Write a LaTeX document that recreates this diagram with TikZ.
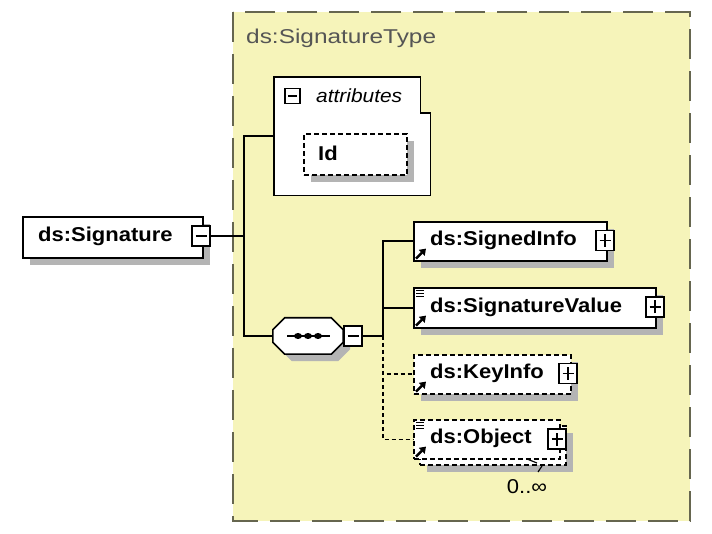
\documentclass[tikz,border=0pt]{standalone}
\usepackage{fontspec}
\setmainfont[FakeStretch=1.1]{Liberation Sans}
\newfontfamily\titlefont[FakeStretch=1.22]{Liberation Sans}
\usetikzlibrary{shadows,arrows.meta}
\definecolor{bgyellow}{HTML}{F6F4BA}
\definecolor{framecol}{HTML}{66664F}
\definecolor{shgray}{HTML}{B4B4B4}
\definecolor{titlegray}{HTML}{555555}
\begin{document}
\begin{tikzpicture}[x=1pt,y=-1pt,
  shad/.style={drop shadow={shadow xshift=7pt,shadow yshift=-7pt,fill=shgray,opacity=1}},
  elem/.style={draw=black,fill=white,line width=1.6pt,anchor=north west,inner sep=0pt,shad},
  optelem/.style={elem,dash pattern=on 5pt off 3pt},
  pmbox/.style={draw=black,fill=white,line width=1.3pt,minimum width=18pt,minimum height=20pt,inner sep=0pt},
  minusbox/.style={pmbox,path picture={\draw[line width=1.3pt]([xshift=-5.5pt]path picture bounding box.center)--([xshift=5.5pt]path picture bounding box.center);}},
  plusbox/.style={pmbox,path picture={\draw[line width=1.3pt]([xshift=-5.5pt]path picture bounding box.center)--([xshift=5.5pt]path picture bounding box.center);
     \draw[line width=1.3pt]([yshift=-6.5pt]path picture bounding box.center)--([yshift=6.5pt]path picture bounding box.center);}},
  lbl/.style={anchor=west,inner sep=0pt,font=\bfseries\fontsize{20}{24}\selectfont},
  conn/.style={draw=black,line width=1.6pt},
  optconn/.style={conn,dash pattern=on 4pt off 3pt},
  refarrow/.style={line width=2.6pt,-{Triangle[length=6pt,width=8pt]}},
]
\useasboundingbox (0,0) rectangle (712,534);
\fill[white] (0,0) rectangle (712,534);
% complex type frame
\draw[framecol,line width=2pt,dash pattern=on 30pt off 12pt,fill=bgyellow] (233,12) rectangle (690,521);
\node[anchor=west,inner sep=0pt,text=titlegray,font=\titlefont\fontsize{20}{24}\selectfont] (title) at (246,38) {ds:SignatureType};

% ds:Signature
\node[elem,minimum width=180pt,minimum height=41pt] (sig) at (22,216) {};
\node[lbl] (sigtxt) at (38,236) {ds:Signature};
\node[minusbox] (sigm) at (201,236) {};

% attributes
\node[anchor=north west,inner sep=0pt,minimum width=156pt,minimum height=118pt] (attr) at (274,77) {};
\draw[line width=1.6pt,fill=white] (attr.north west) -- ([xshift=-10pt]attr.north east) -- ++(0,36) -- ++(10,0) -- (attr.south east) -- (attr.south west) -- cycle;
\node[pmbox,minimum width=15pt,minimum height=15pt,path picture={\draw[line width=1.2pt]([xshift=-4.5pt]path picture bounding box.center)--([xshift=4.5pt]path picture bounding box.center);}] (attrm) at (292.5,96) {};
\node[anchor=west,inner sep=0pt,font=\itshape\fontsize{19}{24}\selectfont] (attrtxt) at (316,96) {attributes};
\node[optelem,minimum width=103pt,minimum height=41pt] (id) at (303,133) {};
\node[lbl] (idtxt) at (318,153) {Id};

% sequence
\node[inner sep=0pt,minimum width=70pt,minimum height=36pt] (seq) at (308,336) {};
\draw[line width=1.6pt,fill=white,shad] ([xshift=12pt]seq.north west) -- ([xshift=-12pt]seq.north east) -- ([yshift=-12pt]seq.north east) -- ([yshift=12pt]seq.south east) -- ([xshift=-12pt]seq.south east) -- ([xshift=12pt]seq.south west) -- ([yshift=12pt]seq.south west) -- ([yshift=-12pt]seq.north west) -- cycle;
\draw[line width=1.6pt] (287,336) -- (330,336);
\foreach \cx in {298,308,318} \fill (\cx,336) ellipse (4pt and 3pt);
\node[minusbox] (seqm) at (353,336) {};

% children
\node[elem,minimum width=193pt,minimum height=39pt] (si) at (413,221) {};
\node[lbl] (sitxt) at (430,240.5) {ds:SignedInfo};
\node[plusbox] (sip) at (605,240.5) {};

\node[elem,minimum width=242pt,minimum height=40pt] (sv) at (413,287) {};
\node[lbl] (svtxt) at (430,307) {ds:SignatureValue};
\node[plusbox] (svp) at (655,307) {};

\node[optelem,minimum width=157pt,minimum height=39pt] (ki) at (413,354) {};
\node[lbl] (kitxt) at (430,373.5) {ds:KeyInfo};
\node[plusbox] (kip) at (568,373.5) {};

\node[optelem,minimum width=146pt,minimum height=39pt] (obback) at (419,425) {};
\node[draw=black,fill=white,line width=1.6pt,dash pattern=on 5pt off 3pt,anchor=north west,inner sep=0pt,minimum width=146pt,minimum height=39pt] (ob) at (413,419) {};
\node[lbl] (obtxt) at (430,438.5) {ds:Object};
\node[plusbox] (obp) at (557,439) {};
\draw[line width=1.2pt] (527,459) -- (537,463);
\draw[line width=1.2pt] (542,466) -- (538,472);
\node[inner sep=0pt,font=\fontsize{20}{24}\selectfont] (obcard) at (527,487) {0..∞};

% reference arrows
\foreach \n in {si,sv,ki,ob} \draw[refarrow] ([shift={(3pt,3pt)}]\n.south west) -- ++(10,-10);
% list icons
\foreach \n in {sv,ob} \foreach \d in {3,6,9} \draw[line width=0.9pt] ([shift={(3pt,-\d pt)}]\n.north west) -- ++(8,0);

% connectors
\coordinate (j1) at (244,236);
\coordinate (j2) at (383,336);
\draw[conn] (sigm.east) -- (j1);
\draw[conn] (attr.west) -| (j1);
\draw[conn] (j1) |- (seq.west);
\draw[conn] (seqm.east) -- (j2);
\draw[conn] (j2) |- (si.west);
\draw[conn] (j2) |- (sv.west);
\draw[optconn] (j2) |- (ki.west);
\draw[optconn] (j2) |- (ob.west);
\end{tikzpicture}
\end{document}
